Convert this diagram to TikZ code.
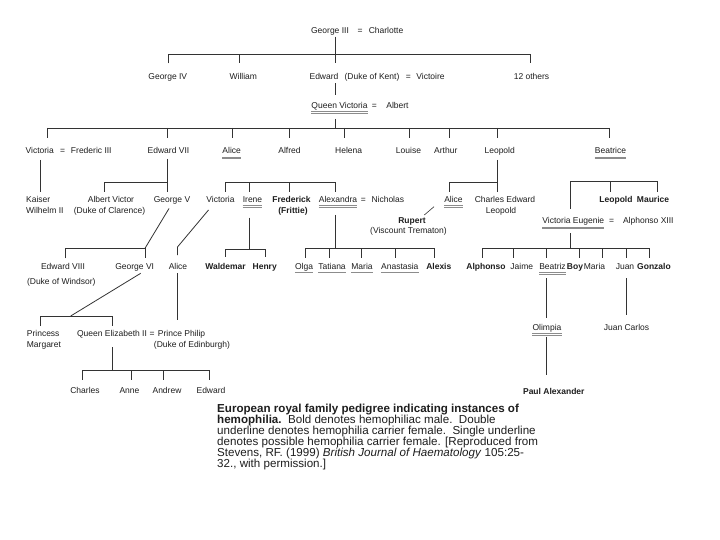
\documentclass[tikz,border=0pt]{standalone}
\usepackage{fontspec}
\setmainfont{Liberation Sans}
\definecolor{ink}{HTML}{1E1E1E}
\definecolor{linec}{HTML}{333333}
\definecolor{ulc}{HTML}{8C8C8C}
\tikzset{
  nm/.style={inner sep=0pt, anchor=base, font=\fontsize{8.5}{10}\selectfont, text=ink},
  bnm/.style={nm, font=\fontsize{8.5}{10}\selectfont\bfseries},
  lnm/.style={nm, anchor=base west},
  ln/.style={draw=linec, line width=0.8pt},
  ulline/.style={draw=ulc, line width=0.6pt},
  captxt/.style={inner sep=0pt, anchor=north west, align=left, text=ink,
    font=\fontsize{11.6}{11}\selectfont},
}
\newcommand\myul[1]{\draw[ulline] ([yshift=-3.2pt]#1.base west) -- ([yshift=-3.2pt]#1.base east);}
\newcommand\mydul[1]{\myul{#1}\draw[ulline] ([yshift=-5pt]#1.base west) -- ([yshift=-5pt]#1.base east);}
\begin{document}
\begin{tikzpicture}[x=1pt,y=-1pt]
\fill[white] (0,0) rectangle (720,540);
\useasboundingbox (0,0) rectangle (720,540);

% ---------- Row 0
\node[nm] (g3) at (330,33.5) {George III};
\node[nm] (g3eq) at (360,33.5) {=};
\node[nm] (charlotte) at (386,33.5) {Charlotte};

% ---------- Row 1
\node[nm] (g4) at (167.8,79.5) {George IV};
\node[nm] (william) at (243.3,79.5) {William};
\node[nm] (edward) at (324,79.5) {Edward};
\node[nm] (dkent) at (372,79.5) {(Duke of Kent)};
\node[nm] (edeq) at (408.3,79.5) {=};
\node[nm] (victoire) at (430.5,79.5) {Victoire};
\node[nm] (others) at (531.5,79.5) {12 others};

% ---------- Row 2
\node[nm] (qv) at (339.5,108.5) {Queen Victoria};
\node[nm] (qveq) at (374.3,108.5) {=};
\node[nm] (albert) at (397.5,108.5) {Albert};
\mydul{qv}

% ---------- Row 3
\node[nm] (vic) at (39.7,153.7) {Victoria};
\node[nm] (viceq) at (62.7,153.7) {=};
\node[nm] (fred3) at (91.3,153.7) {Frederic III};
\node[nm] (e7) at (168.5,153.7) {Edward VII};
\node[nm] (alice1) at (231.7,153.7) {Alice};
\node[nm] (alfred) at (289.5,153.7) {Alfred};
\node[nm] (helena) at (348.7,153.7) {Helena};
\node[nm] (louise) at (408.5,153.7) {Louise};
\node[nm] (arthur) at (445.8,153.7) {Arthur};
\node[nm] (leopold) at (499.7,153.7) {Leopold};
\node[nm] (beatrice) at (610.5,153.7) {Beatrice};
\mydul{alice1}
\mydul{beatrice}

% ---------- Row 4
\node[lnm] (kaiser) at (26,202.3) {Kaiser};
\node[lnm] (kaiser2) at (26,213.3) {Wilhelm II};
\node[nm] (albertv) at (111,202.3) {Albert Victor};
\node[nm] (albertv2) at (109.5,213.3) {(Duke of Clarence)};
\node[nm] (g5) at (172,202.3) {George V};
\node[nm] (victoriah) at (220.5,202.3) {Victoria};
\node[nm] (irene) at (252.5,202.3) {Irene};
\node[bnm] (frederick) at (291.5,202.3) {Frederick};
\node[bnm] (frittie) at (293,213.3) {(Frittie)};
\node[nm] (alexandra) at (338,202.3) {Alexandra};
\node[nm] (alexeq) at (363.3,202.3) {=};
\node[nm] (nicholas) at (387.8,202.3) {Nicholas};
\node[nm] (alice2) at (453.5,202.3) {Alice};
\node[nm] (charlese) at (505,202.3) {Charles Edward};
\node[nm] (charlese2) at (501,213.3) {Leopold};
\node[bnm] (leopoldb) at (616,202.3) {Leopold};
\node[bnm] (maurice) at (653,202.3) {Maurice};
\mydul{irene}
\mydul{alexandra}
\mydul{alice2}

\node[bnm] (rupert) at (412,223.7) {Rupert};
\node[nm] (rupert2) at (408.5,233.7) {(Viscount Trematon)};
\node[nm] (ve) at (573.3,223.7) {Victoria Eugenie};
\node[nm] (veeq) at (611.7,223.7) {=};
\node[nm] (a13) at (648.3,223.7) {Alphonso XIII};
\mydul{ve}

% ---------- Row 5
\node[nm] (e8) at (63,269.5) {Edward VIII};
\node[nm] (e8b) at (61.3,284.7) {(Duke of Windsor)};
\node[nm] (g6) at (134.7,269.5) {George VI};
\node[nm] (aliceb) at (178,269.5) {Alice};
\node[bnm] (waldemar) at (225.5,269.5) {Waldemar};
\node[bnm] (henry) at (264.7,269.5) {Henry};
\node[nm] (olga) at (304,269.5) {Olga};
\node[nm] (tatiana) at (332,269.5) {Tatiana};
\node[nm] (maria) at (362,269.5) {Maria};
\node[nm] (anastasia) at (399.8,269.5) {Anastasia};
\node[bnm] (alexis) at (438.8,269.5) {Alexis};
\node[bnm] (alphonso) at (486,269.5) {Alphonso};
\node[nm] (jaime) at (521.8,269.5) {Jaime};
\node[nm] (beatriz) at (552.5,269.5) {Beatriz};
\node[bnm] (boy) at (575,269.5) {Boy};
\node[nm] (mariab) at (594.5,269.5) {Maria};
\node[nm] (juan) at (625,269.5) {Juan};
\node[bnm] (gonzalo) at (654,269.5) {Gonzalo};
\myul{olga}
\myul{tatiana}
\myul{maria}
\myul{anastasia}
\mydul{beatriz}

% ---------- Row 6
\node[lnm] (princess) at (26.7,336.3) {Princess};
\node[lnm] (margaret) at (26.7,347.3) {Margaret};
\node[nm] (qe2) at (112,336.3) {Queen Elizabeth II};
\node[nm] (qeeq) at (152,336.3) {=};
\node[nm] (philip) at (181.6,336.3) {Prince Philip};
\node[nm] (philip2) at (192,347.3) {(Duke of Edinburgh)};
\node[nm] (olimpia) at (547,330.3) {Olimpia};
\node[nm] (jcarlos) at (626.5,330.3) {Juan Carlos};
\mydul{olimpia}

% ---------- Row 7
\node[nm] (charles) at (85,393.7) {Charles};
\node[nm] (anne) at (129.5,393.7) {Anne};
\node[nm] (andrew) at (167,393.7) {Andrew};
\node[nm] (edwardb) at (211,393.7) {Edward};
\node[bnm] (paul) at (553.8,394.7) {Paul Alexander};

% ---------- Caption
\node[captxt] (caption) at (217,403.5) {\textbf{European royal family pedigree indicating instances of}\\
\textbf{hemophilia.}\ \ Bold denotes hemophiliac male.\ \ Double\\
underline denotes hemophilia carrier female.\ \ Single underline\\
denotes possible hemophilia carrier female. [Reproduced from\\
Stevens, RF. (1999) \textit{British Journal of Haematology} 105:25-\\
32., with permission.]};

% ---------- Connectors
% George III children
\coordinate (k0t) at (335.7,36.7);
\coordinate (k0b) at (335.7,63.3);
\coordinate (k0l) at (168,54.3);
\coordinate (k0r) at (530,54.3);
\coordinate (k0lb) at (168,63.3);
\coordinate (k0rb) at (530,63.3);
\coordinate (k0w) at (239,54.3);
\coordinate (k0wb) at (239,63.3);
\draw[ln] (k0t) -- (k0b);
\draw[ln] (k0lb) -- (k0l) -- (k0r) -- (k0rb);
\draw[ln] (k0w) -- (k0wb);
% Edward -> Queen Victoria
\coordinate (k1t) at (335.7,83.3);
\coordinate (k1b) at (335.7,95);
\draw[ln] (k1t) -- (k1b);
% Queen Victoria children
\coordinate (k2t) at (335.7,119);
\coordinate (k2j) at (335.7,128);
\coordinate (k2l) at (47,128);
\coordinate (k2r) at (609,128);
\draw[ln] (k2t) -- (k2j);
\draw[ln] (k2l) -- (k2r);
\foreach \xx [count=\i] in {47,167.7,232,289,344,409,449,497.7,609}{
  \coordinate (k2a\i) at (\xx,128);
  \coordinate (k2b\i) at (\xx,138);
  \draw[ln] (k2a\i) -- (k2b\i);
}
% Victoria -> Kaiser
\coordinate (k3t) at (40.7,160);
\coordinate (k3b) at (40.7,191.7);
\draw[ln] (k3t) -- (k3b);
% Edward VII children
\coordinate (k4t) at (167.7,159);
\coordinate (k4b) at (167.7,192);
\coordinate (k4l) at (104,182);
\coordinate (k4j) at (167.7,182);
\coordinate (k4lb) at (104,191.7);
\draw[ln] (k4t) -- (k4b);
\draw[ln] (k4lb) -- (k4l) -- (k4j);
% Alice children
\coordinate (k5l) at (225,182.7);
\coordinate (k5r) at (335.7,182.7);
\draw[ln] (k5l) -- (k5r);
\foreach \xx [count=\i] in {225,249,289,335.7}{
  \coordinate (k5a\i) at (\xx,182.7);
  \coordinate (k5b\i) at (\xx,191.7);
  \draw[ln] (k5a\i) -- (k5b\i);
}
% Leopold children
\coordinate (k6t) at (497.7,160);
\coordinate (k6b) at (497.7,191.7);
\coordinate (k6l) at (449,182);
\coordinate (k6j) at (497.7,182);
\coordinate (k6lb) at (449,191.7);
\draw[ln] (k6t) -- (k6b);
\draw[ln] (k6lb) -- (k6l) -- (k6j);
% Alice -> Rupert
\coordinate (k7a) at (434,206.7);
\coordinate (k7b) at (424.3,215);
\draw[ln, line width=0.6pt] (k7a) -- (k7b);
% Beatrice children
\coordinate (k8l) at (570,181.7);
\coordinate (k8r) at (657.7,181.7);
\coordinate (k8lb) at (570,209);
\coordinate (k8m) at (610,181.7);
\coordinate (k8mb) at (610,192);
\coordinate (k8rb) at (657.7,192);
\draw[ln] (k8lb) -- (k8l) -- (k8r) -- (k8rb);
\draw[ln] (k8m) -- (k8mb);
% Victoria Eugenie children
\coordinate (k9t) at (570.7,233);
\coordinate (k9j) at (570.7,248.3);
\coordinate (k9l) at (482,248.3);
\coordinate (k9r) at (649.3,248.3);
\draw[ln] (k9t) -- (k9j);
\draw[ln] (k9l) -- (k9r);
\foreach \xx [count=\i] in {482,513,546,579,602.7,626,649.3}{
  \coordinate (k9a\i) at (\xx,248.3);
  \coordinate (k9b\i) at (\xx,258.3);
  \draw[ln] (k9a\i) -- (k9b\i);
}
% Beatriz -> Olimpia -> Paul Alexander
\coordinate (k10a) at (546,278);
\coordinate (k10b) at (546,318);
\coordinate (k10c) at (546,336.7);
\coordinate (k10d) at (546,375);
\draw[ln] (k10a) -- (k10b);
\draw[ln] (k10c) -- (k10d);
% Juan -> Juan Carlos
\coordinate (k11a) at (626,278);
\coordinate (k11b) at (626,315);
\draw[ln] (k11a) -- (k11b);
% George V children
\coordinate (k12a) at (169,208.5);
\coordinate (k12b) at (145,248.3);
\coordinate (k12l) at (65.7,248.3);
\coordinate (k12lb) at (65.7,258.3);
\coordinate (k12rb) at (145,258.3);
\draw[ln] (k12a) -- (k12b);
\draw[ln] (k12lb) -- (k12l) -- (k12b) -- (k12rb);
% Victoria (Hesse) -> Alice
\coordinate (k13a) at (208.5,210);
\coordinate (k13b) at (177.5,247);
\coordinate (k13c) at (177.5,255);
\draw[ln] (k13a) -- (k13b) -- (k13c);
% Alice -> Prince Philip
\coordinate (k14a) at (177.3,273);
\coordinate (k14b) at (177.3,320);
\draw[ln] (k14a) -- (k14b);
% Irene children
\coordinate (k15t) at (249,217.7);
\coordinate (k15j) at (249,249);
\coordinate (k15l) at (225.7,249);
\coordinate (k15r) at (265,249);
\coordinate (k15lb) at (225.7,256.7);
\coordinate (k15rb) at (265,256.7);
\draw[ln] (k15t) -- (k15j);
\draw[ln] (k15lb) -- (k15l) -- (k15r) -- (k15rb);
% Alexandra children
\coordinate (k16t) at (335.7,215);
\coordinate (k16j) at (335.7,248.3);
\coordinate (k16l) at (305,248.3);
\coordinate (k16r) at (434.3,248.3);
\draw[ln] (k16t) -- (k16j);
\draw[ln] (k16l) -- (k16r);
\foreach \xx [count=\i] in {305,329.3,361.7,395,434.3}{
  \coordinate (k16a\i) at (\xx,248.3);
  \coordinate (k16b\i) at (\xx,258.3);
  \draw[ln] (k16a\i) -- (k16b\i);
}
% George VI children
\coordinate (k17a) at (140.7,273.3);
\coordinate (k17b) at (70.7,316);
\coordinate (k17l) at (40.7,316);
\coordinate (k17r) at (112.7,316);
\coordinate (k17lb) at (40.7,326);
\coordinate (k17rb) at (112.7,326);
\draw[ln] (k17a) -- (k17b);
\draw[ln] (k17lb) -- (k17l) -- (k17r) -- (k17rb);
% Queen Elizabeth II children
\coordinate (k18t) at (112.7,347);
\coordinate (k18j) at (112.7,370);
\coordinate (k18l) at (82.7,370);
\coordinate (k18r) at (209.3,370);
\draw[ln] (k18t) -- (k18j);
\draw[ln] (k18l) -- (k18r);
\foreach \xx [count=\i] in {82.7,131.7,163.3,209.3}{
  \coordinate (k18a\i) at (\xx,370);
  \coordinate (k18b\i) at (\xx,380);
  \draw[ln] (k18a\i) -- (k18b\i);
}
\end{tikzpicture}
\end{document}
